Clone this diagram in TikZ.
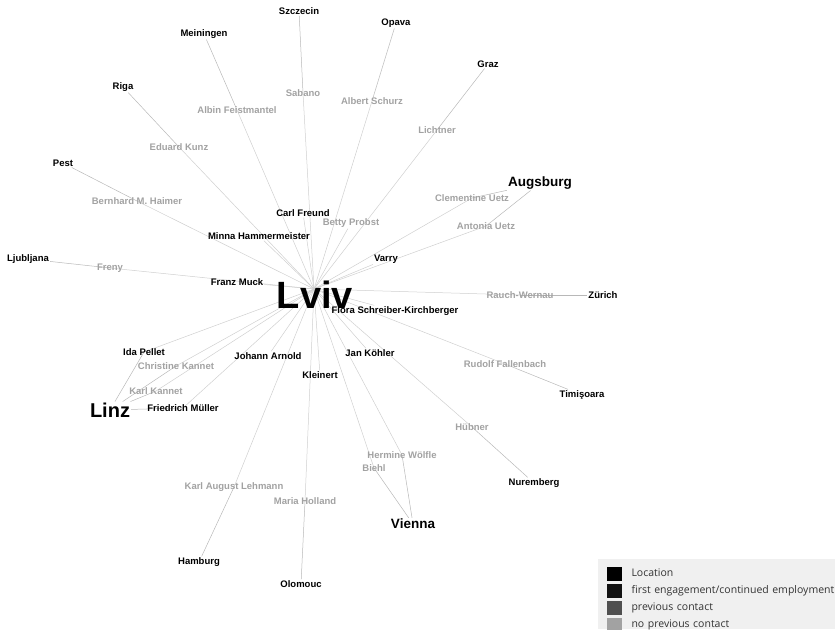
\documentclass[tikz,border=0pt]{standalone}
\usepackage{fontspec}
\setmainfont{Liberation Sans}
\newfontfamily\legendfont{Open Sans}
\usepackage{tikz}
\usetikzlibrary{matrix,backgrounds}
\definecolor{nocontact}{HTML}{A2A2A2}
\definecolor{prevcontact}{HTML}{505050}
\definecolor{linkgray}{HTML}{CFCFCF}
\definecolor{placelink}{HTML}{B8B8B8}
\definecolor{legendbg}{HTML}{F0F0F0}

\begin{document}
\begin{tikzpicture}[x=1pt,y=-1pt,
	place/.style={font=\bfseries\fontsize{9.5}{11}\selectfont,inner sep=1pt},
	bigplace/.style={place,font=\bfseries\fontsize{13.5}{15}\selectfont},
	worker/.style={font=\bfseries\fontsize{9.5}{11}\selectfont,inner sep=1pt},
	newcontact/.style={worker,text=nocontact},
	link/.style={draw=linkgray,line width=0.5pt},
	placelinkstyle/.style={draw=placelink,line width=0.5pt}
	]
	\useasboundingbox (0,0) rectangle (835,629);
	% locations
	\node[font=\bfseries\fontsize{38}{40}\selectfont,inner sep=0pt] (lviv) at (315,295) {Lviv};
	\coordinate (hub) at (314,289);
	\node[place] (szczecin) at (299,11) {Szczecin};
	\node[place] (opava) at (396,23) {Opava};
	\node[place] (meiningen) at (204,34) {Meiningen};
	\node[place] (graz) at (488,64) {Graz};
	\node[place] (riga) at (123,87) {Riga};
	\node[place] (pest) at (63,163) {Pest};
	\node[place] (ljubljana) at (28,259) {Ljubljana};
	\node[place] (zurich) at (603,295) {Zürich};
	\node[place] (timisoara) at (582,395) {Timişoara};
	\node[place] (nuremberg) at (534,483) {Nuremberg};
	\node[place] (hamburg) at (199,562) {Hamburg};
	\node[place] (olomouc) at (301,584) {Olomouc};
	\node[bigplace] (augsburg) at (540,183) {Augsburg};
	\node[bigplace] (vienna) at (413,524) {Vienna};
	\node[place,font=\bfseries\fontsize{20}{22}\selectfont] (linz) at (110,410) {Linz};
	% people
	\node[newcontact] (sabano) at (303,93) {Sabano};
	\node[newcontact] (schurz) at (372,101) {Albert Schurz};
	\node[newcontact] (feistmantel) at (237,110) {Albin Feistmantel};
	\node[newcontact] (lichtner) at (437,130) {Lichtner};
	\node[newcontact] (kunz) at (179,147) {Eduard Kunz};
	\node[newcontact] (clementine) at (472,198) {Clementine Uetz};
	\node[newcontact] (haimer) at (137,201) {Bernhard M. Haimer};
	\node[worker] (freund) at (303,213) {Carl Freund};
	\node[newcontact] (probst) at (351,223) {Betty Probst};
	\node[newcontact] (antonia) at (486,226) {Antonia Uetz};
	\node[worker] (minna) at (259,236) {Minna Hammermeister};
	\node[worker] (varry) at (386,259) {Varry};
	\node[newcontact] (freny) at (110,268) {Freny};
	\node[worker] (muck) at (237,282) {Franz Muck};
	\node[newcontact] (rauch) at (520,295) {Rauch-Wernau};
	\node[worker] (flora) at (395,311) {Flora Schreiber-Kirchberger};
	\node[worker] (pellet) at (144,352) {Ida Pellet};
	\node[worker] (koehler) at (370,353) {Jan Köhler};
	\node[worker] (arnold) at (268,356) {Johann Arnold};
	\node[newcontact] (fallenbach) at (505,364) {Rudolf Fallenbach};
	\node[newcontact] (christine) at (176,366) {Christine Kannet};
	\node[worker] (kleinert) at (320,375) {Kleinert};
	\node[newcontact] (karlkannet) at (156,391) {Karl Kannet};
	\node[worker] (mueller) at (183,408) {Friedrich Müller};
	\node[newcontact] (huebner) at (472,427) {Hübner};
	\node[newcontact] (woelfle) at (402,455) {Hermine Wölfle};
	\node[newcontact] (biehl) at (374,468) {Biehl};
	\node[newcontact] (lehmann) at (234,487) {Karl August Lehmann};
	\node[newcontact] (holland) at (305,501) {Maria Holland};
	% connections
	\begin{scope}[on background layer]
		\foreach \p/\l in {sabano/szczecin,schurz/opava,feistmantel/meiningen,lichtner/graz,
			kunz/riga,haimer/pest,freny/ljubljana,clementine/augsburg,antonia/augsburg,
			rauch/zurich,fallenbach/timisoara,huebner/nuremberg,woelfle/vienna,biehl/vienna,
			lehmann/hamburg,holland/olomouc,christine/linz,karlkannet/linz,pellet/linz,mueller/linz}{
			\draw[link] (hub) -- (\p.center);
			\draw[placelinkstyle] (\p.center) -- (\l);
		}
		\foreach \p in {freund,probst,minna,varry,muck,flora,arnold,koehler,kleinert}
			\draw[link] (hub) -- (\p);
	\end{scope}
	% legend
	\node[fill=legendbg,inner sep=0pt,minimum width=237pt,minimum height=70pt,anchor=north west] (legendbox) at (598,559) {};
	\matrix[matrix of nodes,
	ampersand replacement=\&,
	anchor=north west,
	column sep=10pt,
	row sep=3pt,
	nodes={anchor=center,inner sep=0pt,text height=7.5pt,text depth=2.5pt},
	column 1/.style={nodes={minimum width=15pt,minimum height=14pt}},
	column 2/.style={nodes={text width=206pt,align=left,font=\legendfont\fontsize{10.5}{12}\selectfont,text=black!80}}
	] (legend) at (603,563) {
		|[fill=black]| {} \& Location \\
		|[fill=black!93]| {} \& first engagement/continued employment \\
		|[fill=prevcontact]| {} \& previous contact \\
		|[fill=nocontact]| {} \& no previous contact \\
	};
\end{tikzpicture}
\end{document}
